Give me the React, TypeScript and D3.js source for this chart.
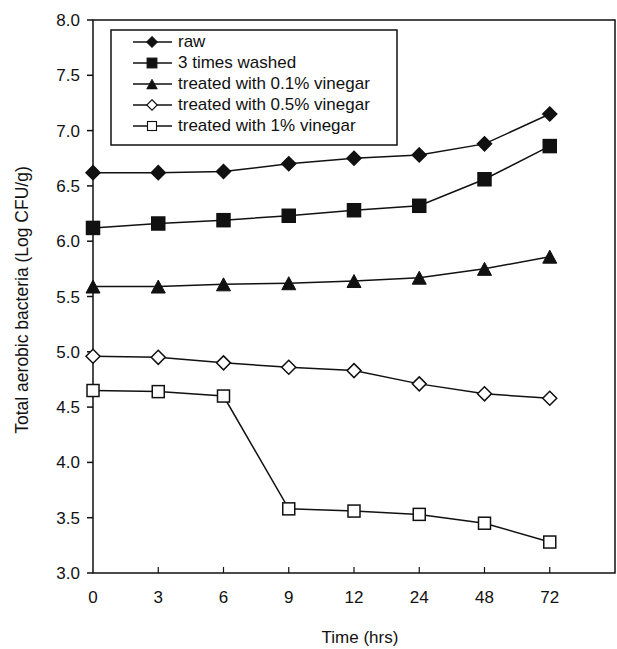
import React, { useEffect, useRef } from 'react';
import * as d3 from 'd3';

// x categories (hours) – plotted at equal spacing
const hours = ['0', '3', '6', '9', '12', '24', '48', '72'];

const raw = [6.62, 6.62, 6.63, 6.7, 6.75, 6.78, 6.88, 7.15];
const washed = [6.12, 6.16, 6.19, 6.23, 6.28, 6.32, 6.56, 6.86];
const vinegar01 = [5.59, 5.59, 5.61, 5.62, 5.64, 5.67, 5.75, 5.86];
const vinegar05 = [4.96, 4.95, 4.9, 4.86, 4.83, 4.71, 4.62, 4.58];
const vinegar1 = [4.65, 4.64, 4.6, 3.58, 3.56, 3.53, 3.45, 3.28];

const yTicks = [3.0, 3.5, 4.0, 4.5, 5.0, 5.5, 6.0, 6.5, 7.0, 7.5, 8.0];

const seriesNames = [
  'raw',
  '3 times washed',
  'treated with 0.1% vinegar',
  'treated with 0.5% vinegar',
  'treated with 1% vinegar',
];
const seriesValues = [raw, washed, vinegar01, vinegar05, vinegar1];
const markerTypes = ['diamond', 'square', 'triangle', 'diamondOpen', 'squareOpen'];

const FONT = '"Liberation Sans", Arial, sans-serif';

const App = () => {
  const svgRef = useRef<SVGSVGElement>(null);

  useEffect(() => {
    const svg = d3.select(svgRef.current);
    svg.selectAll('*').remove();

    const left = 93;
    const right = 615;
    const top = 20;
    const bottom = 573;

    // nine equal slots, the last one left empty
    const xScale = d3.scaleLinear().domain([0, 8]).range([left, right]);
    const yScale = d3.scaleLinear().domain([3, 8]).range([bottom, top]);

    const ink = '#111';

    // frame
    svg.append('rect')
      .attr('x', left).attr('y', top)
      .attr('width', right - left).attr('height', bottom - top)
      .attr('fill', 'none').attr('stroke', ink).attr('stroke-width', 1.5);

    // y ticks + labels
    const yg = svg.append('g');
    yTicks.forEach(t => {
      yg.append('line')
        .attr('x1', left - 6).attr('x2', left)
        .attr('y1', yScale(t)).attr('y2', yScale(t))
        .attr('stroke', ink).attr('stroke-width', 1.5);
      yg.append('text')
        .attr('x', left - 13).attr('y', yScale(t) + 6)
        .attr('text-anchor', 'end')
        .attr('font-family', FONT).attr('font-size', 17)
        .attr('fill', ink)
        .text(t.toFixed(1));
    });

    // x ticks (inside) + labels
    const xg = svg.append('g');
    hours.forEach((h, i) => {
      if (i > 0) {
        xg.append('line')
          .attr('x1', xScale(i)).attr('x2', xScale(i))
          .attr('y1', bottom - 6).attr('y2', bottom)
          .attr('stroke', ink).attr('stroke-width', 1.2);
      }
      xg.append('text')
        .attr('x', xScale(i)).attr('y', bottom + 30)
        .attr('text-anchor', 'middle')
        .attr('font-family', FONT).attr('font-size', 17)
        .attr('fill', ink)
        .text(h);
    });

    // axis titles
    svg.append('text')
      .attr('x', 360).attr('y', 643)
      .attr('text-anchor', 'middle')
      .attr('font-family', FONT).attr('font-size', 17)
      .attr('fill', ink)
      .text('Time (hrs)');

    svg.append('text')
      .attr('transform', 'translate(28, 300) rotate(-90)')
      .attr('text-anchor', 'middle')
      .attr('font-family', FONT).attr('font-size', 17.5)
      .attr('fill', ink)
      .text('Total aerobic bacteria (Log CFU/g)');

    // marker drawing helper
    const drawMarker = (g: any, type: string, x: number, y: number) => {
      const open = type.endsWith('Open');
      const fill = open ? '#fff' : ink;
      if (type.startsWith('diamond')) {
        const r = 7;
        g.append('path')
          .attr('d', `M${x},${y - r}L${x + r},${y}L${x},${y + r}L${x - r},${y}Z`)
          .attr('fill', fill).attr('stroke', ink).attr('stroke-width', 1.5);
      } else if (type.startsWith('square')) {
        const s = open ? 12 : 13;
        g.append('rect')
          .attr('x', x - s / 2).attr('y', y - s / 2)
          .attr('width', s).attr('height', s)
          .attr('fill', fill).attr('stroke', ink).attr('stroke-width', 1.5);
      } else {
        const w = 7, h = 6.5;
        g.append('path')
          .attr('d', `M${x},${y - h}L${x + w},${y + h}L${x - w},${y + h}Z`)
          .attr('fill', fill).attr('stroke', ink).attr('stroke-width', 1);
      }
    };

    const line = d3.line<number>()
      .x((_, i) => xScale(i))
      .y(d => yScale(d));

    seriesValues.forEach((vals, si) => {
      const g = svg.append('g');
      g.append('path')
        .attr('d', line(vals))
        .attr('fill', 'none').attr('stroke', ink).attr('stroke-width', 1.5);
      vals.forEach((v, i) => drawMarker(g, markerTypes[si], xScale(i), yScale(v)));
    });

    // legend
    const lg = svg.append('g');
    lg.append('rect')
      .attr('x', 111).attr('y', 30)
      .attr('width', 286).attr('height', 115)
      .attr('fill', '#fff').attr('stroke', ink).attr('stroke-width', 1.5);
    seriesNames.forEach((name, i) => {
      const base = 47 + i * 21;
      const my = base - 5;
      lg.append('line')
        .attr('x1', 133).attr('x2', 172)
        .attr('y1', my).attr('y2', my)
        .attr('stroke', ink).attr('stroke-width', 1.5);
      const mt = markerTypes[i];
      const lgm = lg.append('g').attr('transform', `translate(152, ${my}) scale(0.75) translate(-152, ${-my})`);
      drawMarker(lgm, mt, 152, my);
      lg.append('text')
        .attr('x', 178).attr('y', base)
        .attr('font-family', FONT).attr('font-size', 17)
        .attr('fill', ink)
        .text(name);
    });
  }, []);

  return (
    <svg
      ref={svgRef}
      width={617}
      height={649}
      style={{ position: 'absolute', left: 0, top: 0, background: '#fff' }}
    ></svg>
  );
};

export default App;
